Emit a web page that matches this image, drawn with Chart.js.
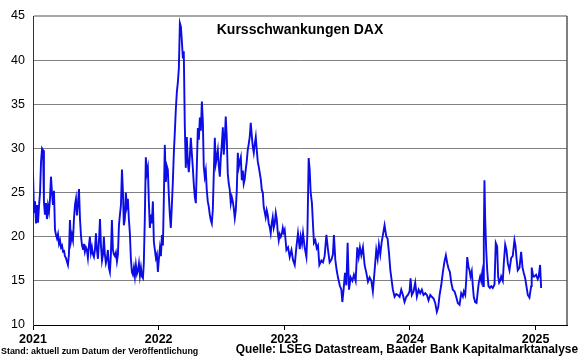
<!DOCTYPE html>
<html><head><meta charset="utf-8">
<script src="https://cdn.jsdelivr.net/npm/chart.js@4.4.1/dist/chart.umd.min.js"></script>
<style>html,body{margin:0;padding:0;background:#fff}#wrap{width:580px;height:358px}</style>
</head><body><div id="wrap"><canvas id="c" width="580" height="358"></canvas></div>
<script>
// time in decimal years
const dates = [
2021.000,2021.008,2021.016,2021.024,2021.032,2021.040,2021.048,2021.056,2021.064,2021.072,
2021.080,2021.087,2021.095,2021.103,2021.111,2021.119,2021.127,2021.135,2021.143,2021.151,
2021.159,2021.167,2021.175,2021.183,2021.191,2021.199,2021.207,2021.215,2021.223,2021.231,
2021.239,2021.246,2021.254,2021.262,2021.270,2021.278,2021.286,2021.294,2021.302,2021.310,
2021.318,2021.326,2021.334,2021.342,2021.350,2021.358,2021.366,2021.374,2021.382,2021.390,
2021.398,2021.405,2021.413,2021.421,2021.429,2021.437,2021.445,2021.453,2021.461,2021.469,
2021.477,2021.485,2021.493,2021.501,2021.509,2021.517,2021.525,2021.533,2021.541,2021.549,
2021.557,2021.564,2021.572,2021.580,2021.588,2021.596,2021.604,2021.612,2021.620,2021.628,
2021.636,2021.644,2021.652,2021.660,2021.668,2021.676,2021.684,2021.692,2021.700,2021.708,
2021.716,2021.723,2021.731,2021.739,2021.747,2021.755,2021.763,2021.771,2021.779,2021.787,
2021.795,2021.803,2021.811,2021.819,2021.827,2021.835,2021.843,2021.851,2021.859,2021.867,
2021.875,2021.882,2021.890,2021.898,2021.906,2021.914,2021.922,2021.930,2021.938,2021.946,
2021.954,2021.962,2021.970,2021.978,2021.986,2021.994,2022.002,2022.010,2022.018,2022.026,
2022.034,2022.041,2022.049,2022.057,2022.065,2022.073,2022.081,2022.089,2022.097,2022.105,
2022.113,2022.121,2022.129,2022.137,2022.145,2022.153,2022.161,2022.169,2022.177,2022.185,
2022.193,2022.200,2022.208,2022.216,2022.224,2022.232,2022.240,2022.248,2022.256,2022.264,
2022.272,2022.280,2022.288,2022.296,2022.304,2022.312,2022.320,2022.328,2022.336,2022.344,
2022.352,2022.359,2022.367,2022.375,2022.383,2022.391,2022.399,2022.407,2022.415,2022.423,
2022.431,2022.439,2022.447,2022.455,2022.463,2022.471,2022.479,2022.487,2022.495,2022.503,
2022.511,2022.518,2022.526,2022.534,2022.542,2022.550,2022.558,2022.566,2022.574,2022.582,
2022.590,2022.598,2022.606,2022.614,2022.622,2022.630,2022.638,2022.646,2022.654,2022.662,
2022.670,2022.677,2022.685,2022.693,2022.701,2022.709,2022.717,2022.725,2022.733,2022.741,
2022.749,2022.757,2022.765,2022.773,2022.781,2022.789,2022.797,2022.805,2022.813,2022.821,
2022.829,2022.836,2022.844,2022.852,2022.860,2022.868,2022.876,2022.884,2022.892,2022.900,
2022.908,2022.916,2022.924,2022.932,2022.940,2022.948,2022.956,2022.964,2022.972,2022.980,
2022.988,2022.995,
2023.003,2023.017,2023.030,2023.043,2023.057,2023.069,2023.083,2023.096,2023.109,2023.123,
2023.131,2023.141,2023.149,2023.162,2023.176,2023.184,2023.194,2023.202,2023.210,2023.220,
2023.228,2023.236,2023.247,2023.258,2023.268,2023.279,2023.295,2023.308,2023.321,2023.335,
2023.348,2023.361,2023.375,2023.387,2023.395,2023.406,2023.417,2023.427,2023.441,2023.454,
2023.462,2023.472,2023.483,2023.494,2023.504,2023.515,2023.528,2023.542,2023.554,2023.568,
2023.581,2023.592,2023.602,2023.613,2023.626,2023.639,2023.653,2023.666,2023.679,2023.693,
2023.705,
2023.719,2023.732,2023.743,2023.753,2023.764,2023.775,2023.786,2023.798,2023.812,2023.822,
2023.833,2023.844,2023.854,2023.864,2023.878,2023.891,2023.904,2023.918,2023.931,2023.944,
2023.957,2023.971,2023.984,2023.997,2024.005,2024.015,2024.029,2024.042,2024.055,2024.069,
2024.082,2024.095,2024.108,2024.122,2024.135,2024.148,2024.162,2024.174,2024.188,2024.201,
2024.214,2024.225,2024.236,2024.249,2024.262,2024.275,2024.286,2024.297,2024.307,2024.318,
2024.329,2024.341,2024.355,2024.368,2024.381,2024.395,
2024.408,2024.421,2024.429,2024.440,2024.448,2024.456,2024.466,2024.474,2024.482,2024.492,
2024.500,2024.508,2024.519,2024.530,2024.540,2024.548,2024.559,2024.567,2024.575,2024.583,
2024.588,2024.593,2024.599,2024.607,2024.615,2024.625,2024.636,2024.647,2024.659,2024.673,
2024.683,2024.694,2024.702,2024.710,2024.718,2024.726,2024.739,2024.747,2024.758,2024.768,
2024.779,2024.792,2024.806,2024.818,2024.832,2024.840,2024.848,2024.858,2024.872,2024.885,
2024.896,2024.906,2024.917,2024.927,2024.938,2024.951,2024.965,2024.969,2024.981,2024.991,
2025.004,2025.017,2025.025,2025.036,2025.044
];
const volatility = [
27.2,22.7,24.0,21.5,23.6,21.6,23.5,25.0,28.5,30.0,
29.8,24.0,22.5,23.8,22.0,23.5,22.8,24.2,26.8,25.0,
23.6,25.2,20.8,20.2,19.8,20.3,19.2,19.6,18.8,19.0,
18.3,18.5,17.8,17.6,17.2,16.8,18.0,21.9,19.5,20.2,
19.6,22.0,23.6,24.3,22.4,23.8,25.4,22.0,20.1,19.0,
18.6,19.2,18.3,18.8,18.5,17.6,19.0,20.0,18.2,18.8,
18.0,17.7,18.5,20.4,18.5,17.5,19.5,22.0,19.0,17.3,
18.0,20.0,18.0,17.0,17.5,18.5,16.5,16.0,18.0,21.9,
18.5,18.0,17.8,18.2,17.2,18.0,21.3,22.5,23.6,27.6,
25.0,21.3,22.0,25.0,23.5,24.3,22.0,20.4,17.5,16.0,
15.7,16.5,15.5,16.8,15.8,16.2,17.0,15.6,16.5,15.5,
15.3,17.0,22.1,29.0,27.2,27.8,24.0,21.0,22.5,21.5,
24.0,19.4,18.5,17.6,18.0,16.0,17.5,18.7,17.8,20.2,
19.0,24.0,30.4,26.2,28.0,27.6,24.7,22.5,21.0,23.5,
26.2,29.5,31.9,34.5,36.4,37.5,39.1,44.2,43.8,42.1,
40.2,41.0,32.7,27.8,31.3,28.5,27.3,29.0,31.2,29.5,
27.8,25.9,24.5,23.8,28.0,32.3,31.0,33.5,32.0,35.3,
33.0,28.0,26.8,27.5,25.3,24.0,23.4,22.5,21.9,21.5,
23.0,27.2,31.2,28.3,29.0,29.8,28.0,26.8,29.0,30.5,
32.4,29.3,31.0,33.6,31.3,27.2,26.0,25.3,23.8,24.5,
24.0,23.2,22.1,23.0,25.3,29.5,27.9,28.5,29.0,26.4,
27.5,26.0,26.5,27.6,28.5,29.8,30.5,31.3,32.9,31.5,
30.2,29.5,30.5,31.3,29.8,28.5,27.9,27.2,26.5,25.3,
25.0,23.4,22.8,22.2,23.0,22.5,21.5,21.1,20.4,21.5,
22.2,21.0,21.5,22.7,22.0,20.5,19.6,20.3,20.0,20.3,
21.0,20.5,
20.8,18.5,18.8,17.7,18.5,17.4,16.8,18.8,20.4,18.6,
20.0,19.2,20.4,18.8,17.7,20.4,28.9,27.6,25.0,23.8,
21.5,19.3,19.6,18.7,19.0,16.8,17.3,17.1,17.8,20.2,
18.5,17.1,17.4,18.0,20.2,17.4,16.2,15.4,14.5,14.0,
12.6,14.0,15.9,14.5,19.3,14.0,15.4,15.0,15.7,15.0,
18.8,17.7,18.8,17.9,18.8,16.8,15.9,14.9,15.4,15.0,
13.8,
16.2,18.5,17.5,19.1,18.0,19.4,20.3,21.3,20.0,19.8,
18.2,16.2,15.1,14.0,13.2,13.5,13.4,13.2,14.0,13.4,
12.6,13.2,13.4,13.8,15.3,13.4,13.8,14.8,13.2,14.0,
13.6,14.0,13.4,13.6,13.4,12.8,13.4,13.2,13.0,12.5,
11.5,12.0,13.4,14.5,16.0,17.2,17.9,17.0,16.4,16.0,
14.8,14.0,13.8,13.2,12.5,12.3,
13.6,13.2,13.8,13.4,15.1,17.7,16.6,16.2,15.5,16.1,
14.5,13.2,12.6,12.5,13.8,14.8,15.5,15.0,15.9,14.4,
20.0,26.4,21.9,18.5,16.2,14.4,14.2,14.4,14.2,14.6,
19.3,18.9,15.5,14.8,15.0,15.5,15.0,17.0,19.1,18.5,
17.0,16.2,17.6,17.8,19.6,19.0,17.6,16.2,16.5,18.3,
16.5,15.9,15.3,14.4,13.4,13.1,14.4,16.5,15.5,15.5,
15.7,15.2,15.5,16.8,14.2
];
const yearTicks = [2021, 2022, 2023, 2024, 2025];
const yTicks = [10, 15, 20, 25, 30, 35, 40, 45];
const titleText = "Kursschwankungen DAX";
const noteLeft = "Stand: aktuell zum Datum der Veröffentlichung";
const noteRight = "Quelle: LSEG Datastream, Baader Bank Kapitalmarktanalyse";

const FONT = '"Liberation Sans", Arial, sans-serif';

const deco = {
  id: 'deco',
  afterDraw(chart) {
    const { ctx, chartArea: a } = chart;
    ctx.save();
    ctx.strokeStyle = '#555';
    ctx.lineWidth = 1.5;
    ctx.beginPath();
    ctx.moveTo(a.right, a.top);
    ctx.lineTo(a.right, a.bottom);
    ctx.stroke();
    ctx.fillStyle = '#000';
    ctx.textBaseline = 'middle';
    ctx.textAlign = 'center';
    ctx.font = 'bold 14px ' + FONT;
    ctx.fillText(titleText, (a.left + a.right) / 2, a.top + 14);
    ctx.textAlign = 'left';
    ctx.font = 'bold 8.9px ' + FONT;
    ctx.fillText(noteLeft, 1, 352);
    ctx.textAlign = 'right';
    ctx.font = 'bold 11.9px ' + FONT;
    ctx.fillText(noteRight, 578, 350);
    ctx.restore();
  }
};

new Chart(document.getElementById('c'), {
  type: 'line',
  data: {
    datasets: [{
      data: dates.map((d, i) => ({ x: d, y: volatility[i] })),
      borderColor: '#0c0ce6',
      borderWidth: 1.9,
      pointRadius: 0,
      tension: 0,
      fill: false
    }]
  },
  options: {
    responsive: false,
    animation: false,
    devicePixelRatio: 1,
    layout: { padding: { top: 16, right: 13, left: 0, bottom: 0 } },
    plugins: { legend: { display: false }, tooltip: { enabled: false }, title: { display: false } },
    scales: {
      x: {
        type: 'linear',
        min: 2021,
        max: 2025.25,
        afterBuildTicks: s => { s.ticks = yearTicks.map(v => ({ value: v })); },
        afterFit: s => { s.height = 33; },
        grid: { display: true, drawOnChartArea: false, drawTicks: true, tickLength: 5, color: '#000' },
        border: { color: '#000', width: 1 },
        ticks: {
          padding: 2,
          maxRotation: 0,
          autoSkip: false,
          color: '#000',
          font: { family: FONT, size: 12.5, weight: 'bold' },
          callback: v => String(v)
        }
      },
      y: {
        min: 10,
        max: 45,
        afterBuildTicks: s => { s.ticks = yTicks.map(v => ({ value: v })); },
        afterFit: s => { s.width = 33; },
        grid: {
          drawTicks: false,
          color: c => (c.tick && c.tick.value === 45) ? '#a8a8a8' : '#808080',
          lineWidth: c => (c.tick && c.tick.value === 45) ? 2 : 1
        },
        border: { color: '#333', width: 1 },
        ticks: {
          padding: 8,
          color: '#000',
          font: { family: FONT, size: 12.5 },
          callback: v => String(v)
        }
      }
    }
  },
  plugins: [deco]
});
</script>
</body></html>
